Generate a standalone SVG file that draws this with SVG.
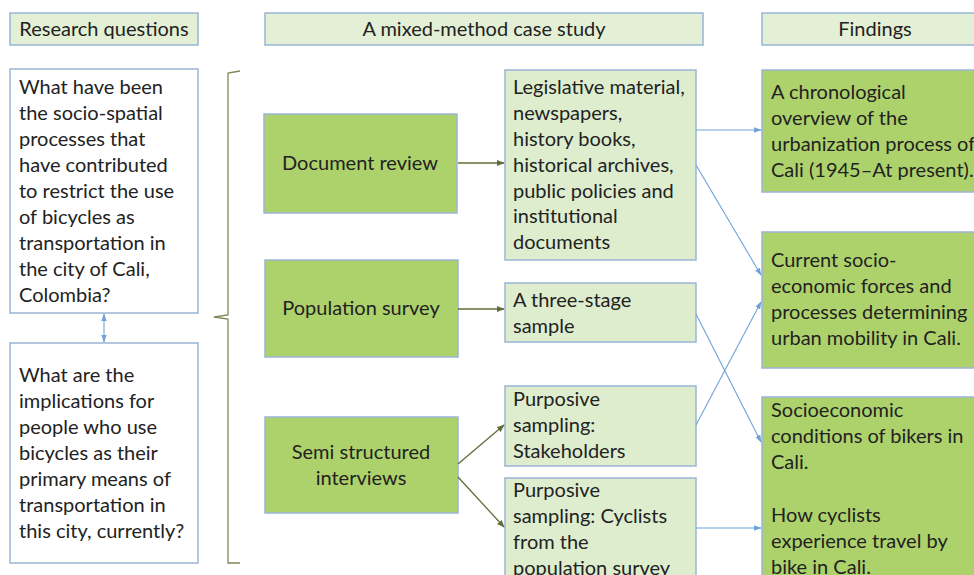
<svg xmlns="http://www.w3.org/2000/svg" width="974" height="575" viewBox="0 0 974 575">
<defs>
<style>
text{font-family:Lato,"Liberation Sans",sans-serif;font-size:20px;fill:#222222}
.hd{fill:#e4f0d6;stroke:#9bb5d6;stroke-width:1.5}
.q{fill:#ffffff;stroke:#9bb5d6;stroke-width:1.5}
.dg{fill:#aed26b;stroke:#9bb5d6;stroke-width:1.5}
.lg{fill:#dfedcf;stroke:#9bb5d6;stroke-width:1.5}
.c{text-anchor:middle}
.ol{stroke:#5f6e3a;stroke-width:1.3;fill:none;marker-end:url(#ao)}
.bl{stroke:#6fa3d8;stroke-width:1.1;fill:none;marker-end:url(#ab)}
</style>
<marker id="ao" viewBox="0 0 10 10" refX="9" refY="5" markerWidth="6" markerHeight="6" orient="auto"><path d="M0,1 L10,5 L0,9 z" fill="#5f6e3a"/></marker>
<marker id="ab" viewBox="0 0 10 10" refX="9" refY="5" markerWidth="7" markerHeight="7" orient="auto-start-reverse"><path d="M0,1.5 L10,5 L0,8.5 z" fill="#6fa3d8"/></marker>
</defs>
<g id="h1"><rect class="hd" x="10" y="13" width="188" height="32"/><text class="c" x="104" y="36">Research questions</text></g>
<g id="h2"><rect class="hd" x="265" y="13" width="438" height="32"/><text class="c" x="484" y="36">A mixed-method case study</text></g>
<g id="h3"><rect class="hd" x="762" y="13" width="220" height="32"/><text class="c" x="875" y="36">Findings</text></g>
<g id="q1"><rect class="q" x="10" y="69" width="188" height="244"/>
<text x="19" y="94">What have been</text><text x="19" y="120">the socio-spatial</text><text x="19" y="146">processes that</text><text x="19" y="172">have contributed</text><text x="19" y="198">to restrict the use</text><text x="19" y="224">of bicycles as</text><text x="19" y="250">transportation in</text><text x="19" y="276">the city of Cali,</text><text x="19" y="302">Colombia?</text></g>
<g id="q2"><rect class="q" x="10" y="343" width="188" height="220"/>
<text x="19" y="382">What are the</text><text x="19" y="408">implications for</text><text x="19" y="434">people who use</text><text x="19" y="460">bicycles as their</text><text x="19" y="486">primary means of</text><text x="19" y="512">transportation in</text><text x="19" y="538">this city, currently?</text></g>
<g id="brace"><path d="M240,71 L228,73 L228,315 L214,317 L228,319 L228,563 L240,563" fill="none" stroke="#7a8a5a" stroke-width="1.3"/></g>
<g id="m1"><rect class="dg" x="264" y="114" width="193" height="99"/><text class="c" x="360" y="170">Document review</text></g>
<g id="m2"><rect class="dg" x="265" y="260" width="193" height="97"/><text class="c" x="361" y="315">Population survey</text></g>
<g id="m3"><rect class="dg" x="265" y="417" width="193" height="96"/><text class="c" x="361" y="459">Semi structured</text><text class="c" x="361" y="485">interviews</text></g>
<g id="s1"><rect class="lg" x="505" y="70" width="191" height="190"/>
<text x="513" y="94">Legislative material,</text><text x="513" y="120">newspapers,</text><text x="513" y="146">history books,</text><text x="513" y="172">historical archives,</text><text x="513" y="198">public policies and</text><text x="513" y="223">institutional</text><text x="513" y="249">documents</text></g>
<g id="s2"><rect class="lg" x="505" y="283" width="191" height="59"/><text x="513" y="307">A three-stage</text><text x="513" y="333">sample</text></g>
<g id="s3"><rect class="lg" x="505" y="386" width="191" height="80"/><text x="513" y="406">Purposive</text><text x="513" y="432">sampling:</text><text x="513" y="458">Stakeholders</text></g>
<g id="s4"><rect class="lg" x="505" y="478" width="191" height="110"/><text x="513" y="497">Purposive</text><text x="513" y="523">sampling: Cyclists</text><text x="513" y="549">from the</text><text x="513" y="575">population survey</text></g>
<g id="f1"><rect class="dg" x="762" y="70" width="220" height="122"/><text x="771" y="99">A chronological</text><text x="771" y="125">overview of the</text><text x="771" y="151">urbanization process of</text><text x="771" y="177">Cali (1945–At present).</text></g>
<g id="f2"><rect class="dg" x="762" y="232" width="220" height="136"/><text x="771" y="267">Current socio-</text><text x="771" y="293">economic forces and</text><text x="771" y="319">processes determining</text><text x="771" y="345">urban mobility in Cali.</text></g>
<g id="f3"><rect class="dg" x="762" y="397" width="220" height="190"/><text x="771" y="417">Socioeconomic</text><text x="771" y="443">conditions of bikers in</text><text x="771" y="469">Cali.</text><text x="771" y="522">How cyclists</text><text x="771" y="548">experience travel by</text><text x="771" y="574">bike in Cali.</text></g>
<g id="connectors">
<line class="bl" x1="104" y1="314" x2="104" y2="342" marker-start="url(#ab)"/>
<line class="ol" x1="458" y1="163" x2="504" y2="163"/>
<line class="ol" x1="458" y1="309" x2="504" y2="309"/>
<line class="ol" x1="458" y1="464" x2="504" y2="425"/>
<line class="ol" x1="458" y1="477" x2="504" y2="527"/>
<line class="bl" x1="696" y1="130" x2="761" y2="130"/>
<line class="bl" x1="696" y1="165" x2="761" y2="275"/>
<line class="bl" x1="696" y1="314" x2="761" y2="442"/>
<line class="bl" x1="696" y1="425" x2="761" y2="302"/>
<line class="bl" x1="696" y1="528" x2="761" y2="528"/>
</g>
</svg>
